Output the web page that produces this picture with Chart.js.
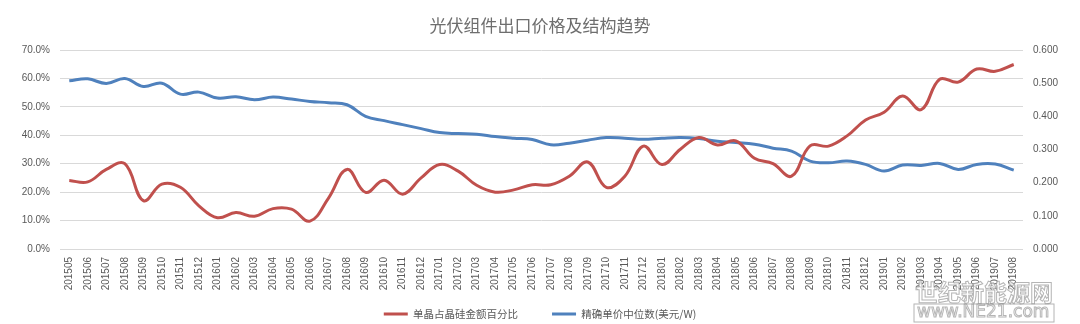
<!DOCTYPE html>
<html>
<head>
<meta charset="utf-8">
<script src="https://cdn.jsdelivr.net/npm/chart.js@4"></script>
<style>
  html, body { margin: 0; padding: 0; background: #fff; }
  #wrap { width: 1080px; height: 324px; }
</style>
</head>
<body>
<div id="wrap"><canvas id="trendChart" width="1080" height="324"></canvas></div>
<script>
// Months on the x axis
const months = [
    '201505', '201506', '201507', '201508', '201509', '201510', '201511', '201512',
    '201601', '201602', '201603', '201604', '201605', '201606', '201607', '201608',
    '201609', '201610', '201611', '201612', '201701', '201702', '201703', '201704',
    '201705', '201706', '201707', '201708', '201709', '201710', '201711', '201712',
    '201801', '201802', '201803', '201804', '201805', '201806', '201807', '201808',
    '201809', '201810', '201811', '201812', '201901', '201902', '201903', '201904',
    '201905', '201906', '201907', '201908'
];

// Mono share of silicon module export value (%)
const monoShare = [
    24.1, 23.6, 28.0, 30.0, 17.0, 22.8, 21.7, 15.2,
    11.0, 12.8, 11.5, 14.2, 14.0, 9.8, 17.9, 28.0,
    19.9, 24.2, 19.3, 25.0, 29.7, 27.4, 22.4, 20.0,
    20.8, 22.6, 22.6, 25.6, 30.6, 21.7, 25.6, 36.2,
    29.7, 35.1, 39.2, 36.6, 38.0, 31.9, 30.0, 25.6,
    36.3, 36.2, 39.8, 45.4, 48.1, 53.8, 49.0, 59.7,
    58.7, 63.3, 62.5, 64.9
];

// Median unit price (USD/W)
const medianPrice = [
    0.507, 0.513, 0.499, 0.514, 0.490, 0.500, 0.467, 0.473,
    0.455, 0.459, 0.450, 0.458, 0.452, 0.445, 0.441, 0.435,
    0.400, 0.387, 0.375, 0.363, 0.351, 0.348, 0.346, 0.339,
    0.334, 0.330, 0.314, 0.319, 0.328, 0.336, 0.334, 0.331,
    0.334, 0.336, 0.333, 0.325, 0.321, 0.316, 0.304, 0.295,
    0.265, 0.260, 0.265, 0.255, 0.235, 0.253, 0.252, 0.258,
    0.240, 0.255, 0.256, 0.238
];

const textColor = '#595959';
const gridColor = '#d9d9d9';
const cjkFont = '"Noto Sans CJK SC", "Liberation Sans", sans-serif';
const tickFont = '"Liberation Sans", "DejaVu Sans", sans-serif';
const legendFontSize = 10.5;
const legendRowY = 314;

// Pin the legend row near the bottom edge, independent of its padding
const legendSlot = {
    id: 'legendSlot',
    afterLayout(chart) {
        const lg = chart.legend;
        if (!lg) return;
        const h = lg.height;
        lg.top = legendRowY - lg.options.labels.padding - legendFontSize / 2;
        lg.bottom = lg.top + h;
    }
};

// Site stamp in the lower right corner
const stampPlugin = {
    id: 'stamp',
    afterDraw(chart) {
        const ctx = chart.ctx;
        ctx.save();
        ctx.textAlign = 'left';
        ctx.textBaseline = 'middle';
        ctx.lineWidth = 1;
        ctx.strokeStyle = 'rgba(150, 150, 150, 0.7)';
        ctx.fillStyle = 'rgba(255, 255, 255, 0.7)';
        ctx.font = 'bold 23px ' + cjkFont;
        ctx.fillText('世纪新能源网', 915, 292);
        ctx.strokeText('世纪新能源网', 915, 292);
        ctx.font = '17px "DejaVu Sans", sans-serif';
        ctx.fillText('www.NE21.com', 917, 313);
        ctx.strokeText('www.NE21.com', 917, 313);
        ctx.strokeRect(914, 304, 140, 18);
        ctx.restore();
    }
};

const ctx = document.getElementById('trendChart').getContext('2d');
const trendChart = new Chart(ctx, {
    type: 'line',
    data: {
        labels: months,
        datasets: [{
            label: '单晶占晶硅金额百分比',
            data: monoShare,
            yAxisID: 'y',
            borderColor: '#c0504d',
            backgroundColor: '#c0504d',
            borderWidth: 3,
            tension: 0.4,
            pointRadius: 0
        }, {
            label: '精确单价中位数(美元/W)',
            data: medianPrice,
            yAxisID: 'y1',
            borderColor: '#4f81bd',
            backgroundColor: '#4f81bd',
            borderWidth: 3,
            tension: 0.4,
            pointRadius: 0
        }]
    },
    options: {
        responsive: false,
        animation: false,
        layout: {
            // x axis (44) + legend (56.5) overrun the bottom; legend is re-pinned above
            padding: { top: 0, bottom: -23.5, left: 0, right: 0 }
        },
        plugins: {
            title: {
                display: true,
                text: '光伏组件出口价格及结构趋势',
                color: '#6e6e6e',
                font: { size: 17, family: cjkFont, weight: 'normal' },
                padding: { top: 15, bottom: 14.6 }
            },
            legend: {
                position: 'bottom',
                labels: {
                    usePointStyle: true,
                    pointStyle: 'line',
                    pointStyleWidth: 24,
                    color: textColor,
                    padding: 34,
                    font: { size: legendFontSize, family: cjkFont }
                }
            },
            tooltip: { enabled: false }
        },
        scales: {
            x: {
                offset: true,
                grid: { display: false, drawTicks: false },
                border: { display: false },
                ticks: {
                    autoSkip: false,
                    minRotation: 90,
                    maxRotation: 90,
                    padding: 8,
                    color: textColor,
                    font: { size: 10, family: tickFont }
                },
                afterFit: function(scale) {
                    scale.height = 44;
                }
            },
            y: {
                position: 'left',
                min: 0,
                max: 70,
                grid: { color: gridColor, drawTicks: false },
                border: { display: false },
                ticks: {
                    stepSize: 10,
                    padding: 10,
                    color: textColor,
                    font: { size: 10, family: tickFont },
                    callback: function(value) {
                        return value.toFixed(1) + '%';
                    }
                },
                afterFit: function(scale) {
                    scale.width = 60;
                }
            },
            y1: {
                position: 'right',
                min: 0,
                max: 0.6,
                grid: { drawOnChartArea: false, drawTicks: false },
                border: { display: false },
                ticks: {
                    stepSize: 0.1,
                    padding: 10,
                    color: textColor,
                    font: { size: 10, family: tickFont },
                    callback: function(value) {
                        return value.toFixed(3);
                    }
                },
                afterFit: function(scale) {
                    scale.width = 57;
                }
            }
        }
    },
    plugins: [legendSlot, stampPlugin]
});
</script>
</body>
</html>
